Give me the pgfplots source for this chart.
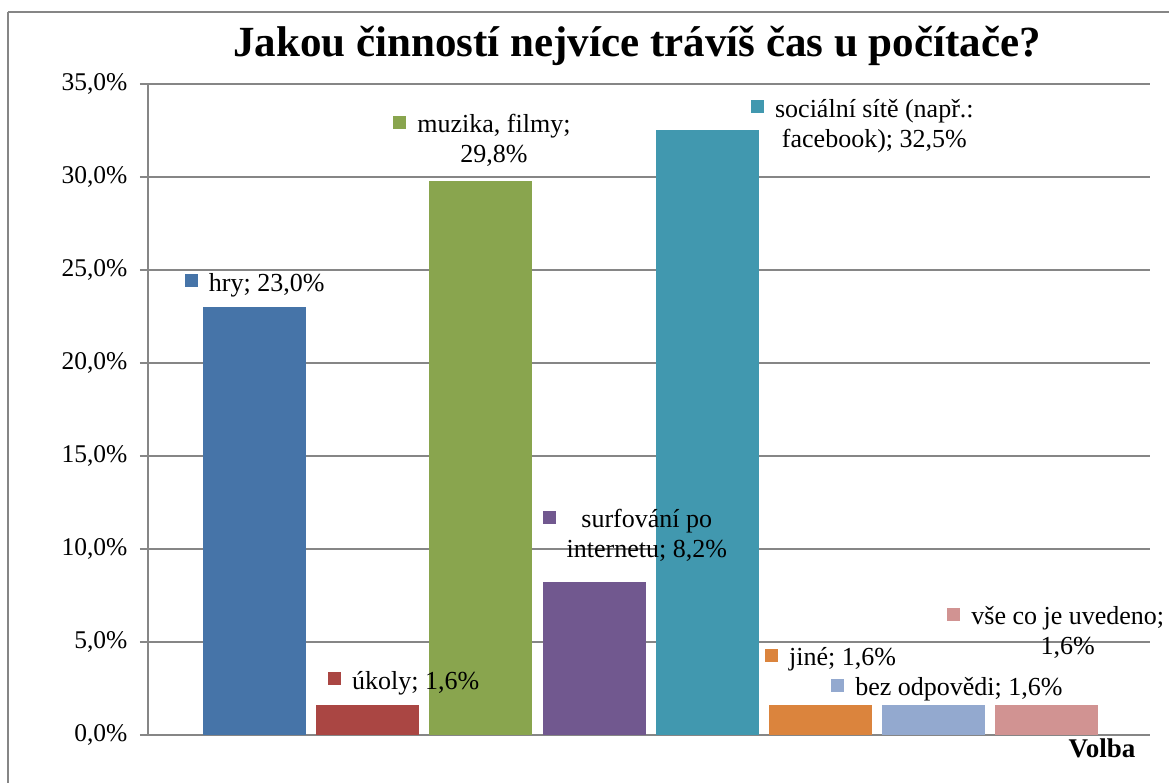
\documentclass[border=0pt]{standalone}
\usepackage{pgfplots}
\pgfplotsset{compat=1.18}
\usepackage{fontspec}
\setmainfont{Liberation Serif}
\definecolor{c1}{HTML}{4674A8}
\definecolor{c2}{HTML}{AA4643}
\definecolor{c3}{HTML}{89A54E}
\definecolor{c4}{HTML}{71588F}
\definecolor{c5}{HTML}{4198AF}
\definecolor{c6}{HTML}{DB843D}
\definecolor{c7}{HTML}{93A9CF}
\definecolor{c8}{HTML}{D19392}
\definecolor{gridc}{HTML}{868686}
\newcommand\sq[1]{\raisebox{4pt}{\textcolor{#1}{\rule{13pt}{13pt}}}\hspace{11pt}}
\newcommand\lab[2]{\sq{#1}\begin{tabular}[t]{@{}c@{}}#2\end{tabular}}
\begin{document}
\begin{tikzpicture}
\useasboundingbox (-148pt,-47pt) rectangle (1021pt,735pt);
\draw[gridc, line width=1.2pt] (-140pt,723pt) -- (1040pt,723pt);
\draw[gridc, line width=1.2pt] (-140pt,723pt) -- (-140pt,-60pt);
\begin{axis}[
  at={(0,0)}, anchor=south west,
  scale only axis, width=1002pt, height=651pt,
  xmin=-0.94, xmax=7.91, ymin=0, ymax=35,
  ytick={0,5,10,15,20,25,30,35},
  xtick=\empty,
  axis lines*=left,
  axis line style={-, gridc, line width=1.2pt},
  ymajorgrids, grid style={gridc, line width=1.2pt},
  tick style={gridc, line width=1.2pt},
  tick align=outside, major tick length=8pt,
  yticklabel={\pgfmathprintnumber[fixed,fixed zerofill,precision=1,use comma]{\tick}\%},
  /pgf/number format/assume math mode=true,
  yticklabel style={font=\rmfamily\fontsize{25.5}{30}\selectfont, xshift=-9pt},
  clip=false,
  bar width=0.91,
]
\addplot[ybar, bar shift=0, fill=c1, draw=none] coordinates {(0,23.0)};
\addplot[ybar, bar shift=0, fill=c2, draw=none] coordinates {(1,1.6)};
\addplot[ybar, bar shift=0, fill=c3, draw=none] coordinates {(2,29.8)};
\addplot[ybar, bar shift=0, fill=c4, draw=none] coordinates {(3,8.2)};
\addplot[ybar, bar shift=0, fill=c5, draw=none] coordinates {(4,32.5)};
\addplot[ybar, bar shift=0, fill=c6, draw=none] coordinates {(5,1.6)};
\addplot[ybar, bar shift=0, fill=c7, draw=none] coordinates {(6,1.6)};
\addplot[ybar, bar shift=0, fill=c8, draw=none] coordinates {(7,1.6)};
\begin{scope}[every node/.style={anchor=base west, inner sep=0pt, font=\rmfamily\fontsize{26}{30}\selectfont}]
\node at (axis cs:-0.615,23.87) {\lab{c1}{hry; 23,0\%}};
\node at (axis cs:0.650,2.47) {\lab{c2}{úkoly; 1,6\%}};
\node at (axis cs:1.226,32.37) {\lab{c3}{muzika, filmy;\\29,8\%}};
\node at (axis cs:2.544,11.13) {\lab{c4}{surfování po\\internetu; 8,2\%}};
\node at (axis cs:4.385,33.22) {\lab{c5}{sociální sítě (např.:\\facebook); 32,5\%}};
\node at (axis cs:4.509,3.71) {\lab{c6}{jiné; 1,6\%}};
\node at (axis cs:5.093,2.10) {\lab{c7}{bez odpovědi; 1,6\%}};
\node at (axis cs:6.119,5.92) {\lab{c8}{vše co je uvedeno;\\1,6\%}};
\end{scope}
\end{axis}
\node[anchor=base, inner sep=0pt, font=\rmfamily\bfseries\fontsize{43}{50}\selectfont] at (489pt,678pt) {Jakou činností nejvíce trávíš čas u počítače?};
\node[anchor=base, inner sep=0pt, font=\rmfamily\bfseries\fontsize{27}{32}\selectfont] at (954pt,-22pt) {Volba};
\end{tikzpicture}
\end{document}
